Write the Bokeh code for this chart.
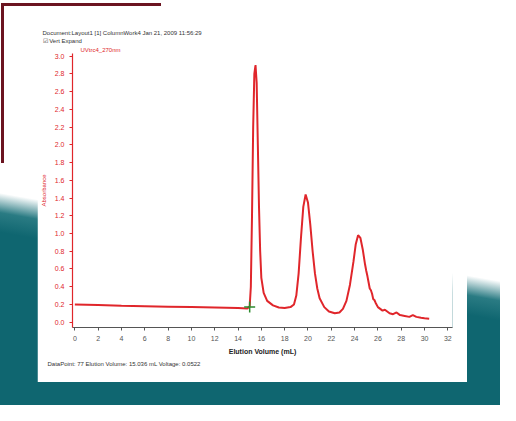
from bokeh.plotting import figure
from bokeh.models import Range1d, FixedTicker, Title, NumeralTickFormatter
from bokeh.layouts import column
from bokeh.embed import file_html
from bokeh.resources import INLINE

# ---- data ----
elution_ml = [0.0, 2.0, 4.0, 6.0, 8.0, 10.0, 12.0, 14.0, 14.8,
              15.0, 15.1, 15.2, 15.3, 15.4, 15.5, 15.6, 15.7, 15.8, 15.9, 16.0,
              16.2, 16.5, 17.0, 17.5, 18.0, 18.5, 18.8,
              19.0, 19.2, 19.4, 19.6, 19.8, 20.0, 20.2, 20.4, 20.6, 20.8, 21.0,
              21.4, 21.8, 22.3, 22.7, 23.0, 23.3, 23.6, 23.9, 24.1, 24.3, 24.5,
              24.7, 24.9, 25.0, 25.1, 25.2, 25.3, 25.4, 25.5, 25.6, 25.7, 25.8,
              26.0, 26.2, 26.4, 26.6, 26.8, 27.0, 27.3, 27.6, 27.9, 28.3, 28.7,
              29.0, 29.3, 29.7, 30.0, 30.4]
absorbance = [0.20, 0.195, 0.185, 0.18, 0.175, 0.17, 0.165, 0.16, 0.155,
              0.18, 0.40, 1.20, 2.20, 2.80, 2.90, 2.70, 2.00, 1.30, 0.80, 0.50,
              0.33, 0.24, 0.19, 0.165, 0.16, 0.17, 0.20,
              0.30, 0.55, 0.95, 1.30, 1.44, 1.35, 1.10, 0.80, 0.55, 0.38, 0.27,
              0.17, 0.12, 0.10, 0.11, 0.15, 0.24, 0.42, 0.68, 0.88, 0.98, 0.95,
              0.82, 0.65, 0.58, 0.52, 0.45, 0.38, 0.36, 0.32, 0.26, 0.25, 0.22,
              0.17, 0.15, 0.13, 0.14, 0.12, 0.10, 0.09, 0.11, 0.08, 0.07, 0.06,
              0.08, 0.06, 0.05, 0.045, 0.04]
cursor_ml = [15.0]
cursor_abs = [0.17]
x_ticks = list(range(0, 33, 2))
y_ticks = [0.0, 0.2, 0.4, 0.6, 0.8, 1.0, 1.2, 1.4, 1.6, 1.8, 2.0, 2.2, 2.4, 2.6, 2.8, 3.0]

header_text = "Document:Layout1   [1] ColumnWork4   Jan 21, 2009   11:56:29"
expand_text = "☑ Vert Expand"
trace_name = "UVtrc4_270nm"
status_text = "DataPoint: 77     Elution Volume: 15.036 mL     Voltage: 0.0522"

RED = "#e0262b"
GRAY = "#555555"
FONT = "Liberation Sans"

p = figure(width=430, height=355, output_backend="svg", toolbar_location=None,
           x_range=Range1d(-0.2, 32.4), y_range=Range1d(-0.06, 3.03),
           min_border_left=35, min_border_right=15, min_border_top=8,
           min_border_bottom=55, title=header_text)
p.background_fill_color = "white"
p.border_fill_color = "white"
p.outline_line_color = None
p.grid.visible = False

p.line(elution_ml, absorbance, line_color=RED, line_width=2)
p.scatter(cursor_ml, cursor_abs, marker="cross", size=11, line_color="#2e8b2e",
          line_width=1.5)

# titles / header (p.title is outermost; first added title sits closest to the plot)
p.title.text_color = "#333333"
p.title.text_font_size = "6px"
p.title.text_font_style = "normal"
p.title.text_font = FONT
p.title.align = "left"
p.title.offset = -30
p.title.standoff = 0
p.add_layout(Title(text=trace_name, text_font_size="6px", text_font_style="normal",
                   text_font=FONT, text_color=RED, align="left", offset=8,
                   standoff=2), "above")
p.add_layout(Title(text=expand_text, text_font_size="6px", text_font_style="normal",
                   text_font=FONT, text_color="#333333", align="left", offset=-30,
                   standoff=0), "above")
p.add_layout(Title(text=status_text, text_font_size="6px", text_font_style="normal",
                   text_font=FONT, text_color="#333333", align="left", offset=-25,
                   standoff=2), "below")

# axes
p.xaxis.ticker = FixedTicker(ticks=x_ticks)
p.yaxis.ticker = FixedTicker(ticks=y_ticks)
p.yaxis.formatter = NumeralTickFormatter(format="0.0")
p.xaxis.axis_label = "Elution Volume (mL)"
p.yaxis.axis_label = "Absorbance"
p.xaxis.axis_label_text_font_size = "7px"
p.xaxis.axis_label_text_font_style = "bold"
p.xaxis.axis_label_text_color = "#222222"
p.xaxis.axis_label_standoff = 4
p.yaxis.axis_label_text_font_size = "6px"
p.yaxis.axis_label_text_font_style = "normal"
p.yaxis.axis_label_text_color = RED
for ax in (p.xaxis, p.yaxis):
    ax.major_label_text_font_size = "7px"
    ax.minor_tick_line_color = None
    ax.major_tick_out = 3
    ax.major_tick_in = 0
p.xaxis.major_label_text_color = GRAY
p.xaxis.axis_line_color = GRAY
p.xaxis.major_tick_line_color = GRAY
p.yaxis.axis_line_color = RED
p.yaxis.major_tick_line_color = RED
p.yaxis.major_label_text_color = RED
p.yaxis.axis_line_width = 1.2

p.margin = (27, 33, 23, 37)

bg = ("linear-gradient(#6b1420,#6b1420) 1px 3px / 160px 3px no-repeat, "
      "linear-gradient(#6b1420,#6b1420) 1px 3px / 3px 160px no-repeat, "
      "linear-gradient(190deg, #ffffff 0%, #ffffff 57%, #2a7b83 61%, #0f6670 65%, #0f6670 100%)")
layout = column(p, styles={"background": bg}, width=500, height=405)

open("out.html", "w").write(file_html(layout, INLINE))
